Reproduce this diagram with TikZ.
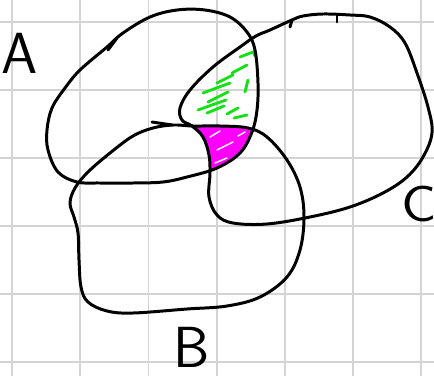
\documentclass[tikz,border=0pt]{standalone}
\definecolor{GridGray}{RGB}{212,212,212}
\definecolor{HatchGreen}{RGB}{20,225,20}
\definecolor{TripleMagenta}{RGB}{255,0,255}
\tikzset{
  gridline/.style={draw=GridGray, line width=1.1pt},
  outline/.style={draw=black, line width=1.7pt, line cap=round, line join=round},
  hatch/.style={draw=HatchGreen, line width=1.6pt, line cap=round},
  scribble/.style={draw=white, line width=0.8pt, line cap=round},
  setlabel/.style={font=\sffamily\fontsize{33}{33}\selectfont, inner sep=0pt},
}
% the three hand-drawn sets (pixel coordinates)
\newcommand{\loopA}{plot[smooth cycle, tension=0.6] coordinates {
  (123,33) (150,17) (177,10) (205,10) (230,17) (247,32) (255,50) (258,83)
  (257,110) (252,132) (240,153) (217,168) (187,177) (163,182) (133,183)
  (100,183) (77,182) (58,172) (48,150) (47,130) (52,108) (65,88) (80,70)
  (107,47)}}
\newcommand{\loopB}{plot[smooth cycle, tension=0.6] coordinates {
  (173,125) (193,126) (220,126) (248,128) (267,137) (287,160) (300,187)
  (304,217) (300,250) (287,277) (260,297) (227,306) (187,309) (133,313)
  (107,311) (88,302) (81,287) (79,260) (78,233) (74,217) (70,203) (75,188)
  (88,172) (110,153) (133,136) (153,128)}}
\newcommand{\loopC}{plot[smooth cycle, tension=0.6] coordinates {
  (292,20) (303,16) (323,14) (350,15) (370,17) (390,27) (405,43) (417,73)
  (428,107) (432,133) (423,157) (407,177) (383,193) (350,207) (310,217)
  (267,224) (233,223) (217,215) (209,197) (210,173) (209,155) (203,137)
  (192,126) (182,120) (180,108) (190,90) (213,67) (240,47) (256,36) (270,30)}}

\begin{document}
\begin{tikzpicture}[x=0.02cm, y=-0.02cm]
  \useasboundingbox (0,0) rectangle (434,376);
  \fill[white] (0,0) rectangle (434,376);

  % squared paper
  \foreach \gx in {12.3,80.4,148.5,216.6,284.7,352.8,420.9}
    \draw[gridline] (\gx,0) -- (\gx,376);
  \foreach \gy in {21.7,89.8,157.9,226,294.1,362.2}
    \draw[gridline] (0,\gy) -- (434,\gy);

  % A, B and C together
  \begin{scope}
    \clip \loopA;
    \clip \loopC;
    \fill[TripleMagenta] \loopB;
  \end{scope}
  \draw[scribble] (210,137) -- (220,131);
  \draw[scribble] (217,150) -- (233,142);
  \draw[scribble] (215,163) -- (227,158);
  \draw[scribble] (238,136) -- (245,132);

  % A and C only
  \draw[hatch] (240,57) -- (253,52) -- (255,56);
  \draw[hatch] (232,73) -- (247,65);
  \draw[hatch] (217,83) -- (233,75);
  \draw[hatch] (203,93) -- (230,83);
  \draw[hatch] (245,92) -- (248,80);
  \draw[hatch] (208,102) -- (228,92);
  \draw[hatch] (198,110) -- (226,100);
  \draw[hatch] (207,113) -- (224,106);
  \draw[hatch] (227,114) -- (238,108);
  \draw[hatch] (234,118) -- (247,115);

  % outlines
  \draw[outline] \loopA;
  \draw[outline] \loopB;
  \draw[outline] \loopC;
  \draw[outline] (152,122) -- (172,125);
  \draw[outline] (108,50) -- (117,38);
  \draw[outline] (292,20) -- (290,27);
  \draw[outline] (337,15) -- (337,22);

  \node[setlabel] (labA) at (20,53) {A};
  \node[setlabel] (labB) at (192,347) {B};
  \node[setlabel, font=\sffamily\fontsize{29}{29}\selectfont, xscale=1.15] (labC) at (419,204) {C};
\end{tikzpicture}
\end{document}
